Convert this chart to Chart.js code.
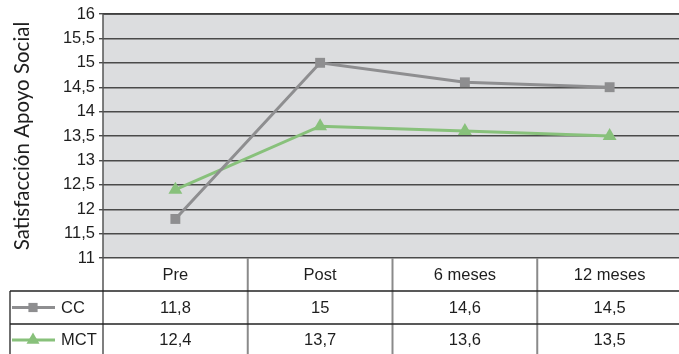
<!DOCTYPE html>
<html>
<head>
<meta charset="utf-8">
<script src="https://cdn.jsdelivr.net/npm/chart.js@4"></script>
<style>
  html, body { margin: 0; padding: 0; background: #fff; overflow: hidden; }
  #wrap { width: 679px; height: 354px; overflow: hidden; }
  #wrap div { width: 690px; height: 354px; }
</style>
</head>
<body>
<div id="wrap"><div><canvas id="chart" width="690" height="354"></canvas></div></div>
<script>
// datos
const categories = ['Pre', 'Post', '6 meses', '12 meses'];
const ccValues = [11.8, 15, 14.6, 14.5];
const mctValues = [12.4, 13.7, 13.6, 13.5];
const yTitle = 'Satisfacción Apoyo Social';

const ccColor = '#8e8e90';
const mctColor = '#88c17b';
const textFont = '16.5px "Liberation Sans", Arial, sans-serif';

function fmt(v) {
    return String(v).replace('.', ',');
}

// fondo gris, eje y y tabla de datos bajo el gráfico
const tablePlugin = {
    id: 'tablePlugin',
    beforeDraw(chart) {
        const { ctx, chartArea } = chart;
        ctx.save();
        ctx.fillStyle = '#dcdddf';
        ctx.fillRect(chartArea.left, chartArea.top, chartArea.right - chartArea.left, chartArea.bottom - chartArea.top);
        ctx.restore();
    },
    afterDraw(chart) {
        const { ctx, chartArea } = chart;
        const x = chart.scales.x;
        const left = chartArea.left, right = chartArea.right, bottom = chartArea.bottom;
        const row1 = bottom + 33, row2 = bottom + 66, end = chart.height;
        const colW = (right - left) / categories.length;

        ctx.save();
        // borde superior
        ctx.strokeStyle = '#3c3c3c';
        ctx.lineWidth = 1.5;
        ctx.beginPath();
        ctx.moveTo(left, chartArea.top);
        ctx.lineTo(right, chartArea.top);
        ctx.stroke();

        // divisiones de columnas
        ctx.strokeStyle = '#8a8a8a';
        ctx.lineWidth = 2;
        for (let i = 1; i < categories.length; i++) {
            const cx = left + colW * i;
            ctx.beginPath();
            ctx.moveTo(cx, bottom);
            ctx.lineTo(cx, end);
            ctx.stroke();
        }

        // eje vertical
        ctx.strokeStyle = '#555';
        ctx.lineWidth = 1.5;
        ctx.beginPath();
        ctx.moveTo(left, chartArea.top);
        ctx.lineTo(left, end);
        ctx.stroke();

        // filas
        ctx.strokeStyle = '#222';
        ctx.lineWidth = 1.3;
        [row1, row2].forEach(y => {
            ctx.beginPath();
            ctx.moveTo(10, y);
            ctx.lineTo(right, y);
            ctx.stroke();
        });
        ctx.beginPath();
        ctx.moveTo(10, row1);
        ctx.lineTo(10, end);
        ctx.stroke();

        // textos
        ctx.fillStyle = '#1e1e1e';
        ctx.font = textFont;
        ctx.textAlign = 'center';
        ctx.textBaseline = 'middle';
        categories.forEach((c, i) => {
            const cx = x.getPixelForValue(i);
            ctx.fillText(c, cx, (bottom + row1) / 2 + 1);
            ctx.fillText(fmt(ccValues[i]), cx, (row1 + row2) / 2 + 1);
            ctx.fillText(fmt(mctValues[i]), cx, (row2 + end) / 2 + 1);
        });

        // leyenda
        const series = [
            { label: 'CC', color: ccColor, style: 'rect', radius: 6.5, y: (row1 + row2) / 2 },
            { label: 'MCT', color: mctColor, style: 'triangle', radius: 7.5, y: (row2 + end) / 2 + 1 }
        ];
        series.forEach(s => {
            ctx.strokeStyle = s.color;
            ctx.lineWidth = 3;
            ctx.beginPath();
            ctx.moveTo(12, s.y);
            ctx.lineTo(55, s.y);
            ctx.stroke();
            ctx.fillStyle = s.color;
            Chart.helpers.drawPoint(ctx, { pointStyle: s.style, radius: s.radius, borderWidth: 0 }, 33, s.y);
            ctx.fillStyle = '#1e1e1e';
            ctx.textAlign = 'left';
            ctx.fillText(s.label, 61, s.y + (s.label === 'CC' ? 1 : 0));
        });

        // título eje y
        ctx.translate(22, (chartArea.top + bottom) / 2);
        ctx.rotate(-Math.PI / 2);
        ctx.textAlign = 'center';
        ctx.font = '20.5px Lato, sans-serif';
        ctx.fillStyle = '#1e1e1e';
        ctx.fillText(yTitle, 0, 0);
        ctx.restore();
    }
};

new Chart(document.getElementById('chart'), {
    type: 'line',
    data: {
        labels: categories,
        datasets: [
            {
                label: 'CC',
                data: ccValues,
                borderColor: ccColor,
                backgroundColor: ccColor,
                borderWidth: 3,
                pointStyle: 'rect',
                pointRadius: 7,
                pointBorderWidth: 0,
                tension: 0
            },
            {
                label: 'MCT',
                data: mctValues,
                borderColor: mctColor,
                backgroundColor: mctColor,
                borderWidth: 3,
                pointStyle: 'triangle',
                pointRadius: 8,
                pointBorderWidth: 0,
                tension: 0
            }
        ]
    },
    options: {
        responsive: false,
        animation: false,
        layout: { padding: { top: 14, bottom: 96, right: 1, left: 0 } },
        plugins: {
            legend: { display: false },
            tooltip: { enabled: false }
        },
        scales: {
            x: {
                display: false,
                offset: true
            },
            y: {
                min: 11,
                max: 16,
                afterFit(scale) { scale.width = 103; },
                ticks: {
                    stepSize: 0.5,
                    color: '#1e1e1e',
                    padding: 4,
                    font: { family: '"Liberation Sans", Arial, sans-serif', size: 16.5 },
                    callback: v => fmt(v)
                },
                grid: {
                    color: '#4a4a4a',
                    lineWidth: 1.4,
                    tickLength: 4
                },
                border: { display: false }
            }
        }
    },
    plugins: [tablePlugin]
});
</script>
</body>
</html>
